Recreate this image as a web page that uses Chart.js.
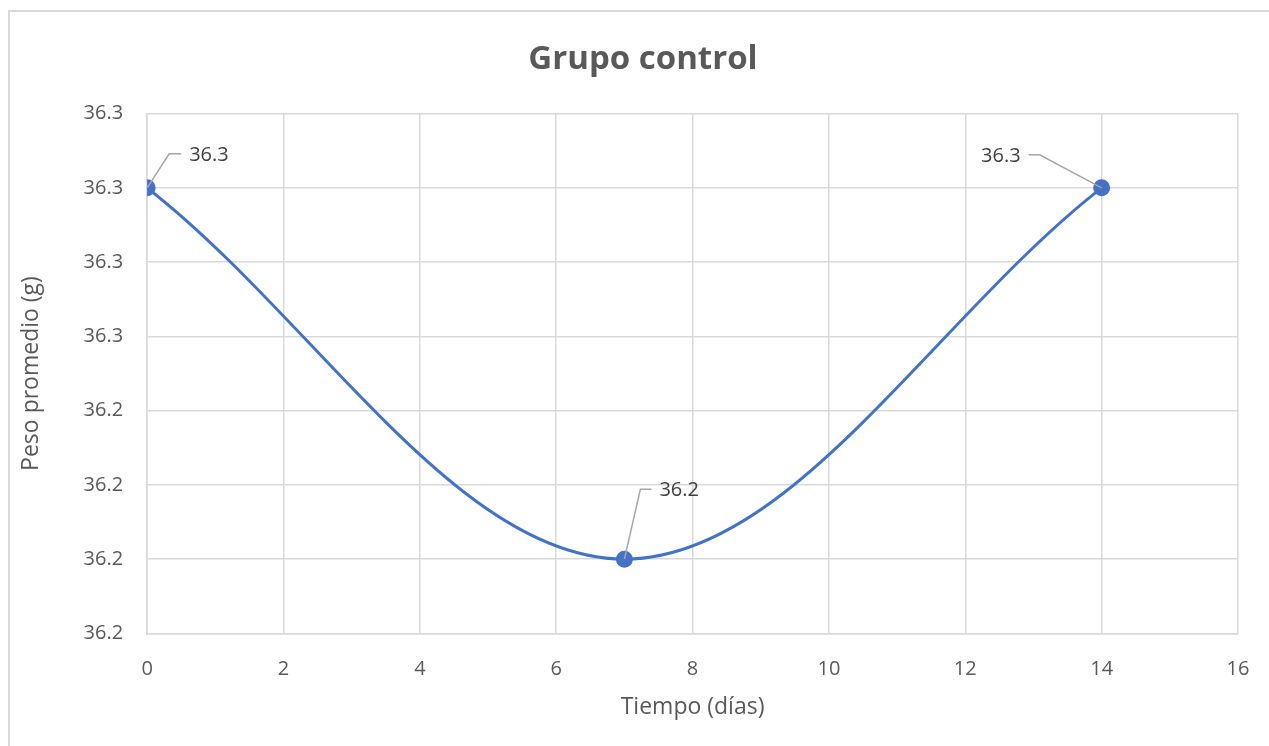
<!DOCTYPE html>
<html lang="es">
<head>
    <meta charset="UTF-8">
    <title>Grupo control</title>
    <script src="https://cdn.jsdelivr.net/npm/chart.js"></script>
    <style>
        html, body { margin: 0; background: #fff; overflow: hidden; }
        #box { position: absolute; left: 8px; top: 10px; width: 1261px; height: 736px; border: 2px solid #d9d9d9; border-right: none; border-bottom: none; box-sizing: border-box; }
        #wrap { position: absolute; left: 0; top: 0; width: 1269px; height: 746px; }
    </style>
</head>
<body>
    <div id="box"></div>
    <div id="wrap"><canvas id="myChart"></canvas></div>

    <script>
        // datos
        const dias = [0, 7, 14];
        const peso = [36.27, 36.22, 36.27];
        const etiquetas = ['36.3', '36.2', '36.3'];
        const yTicks = [36.21, 36.22, 36.23, 36.24, 36.25, 36.26, 36.27, 36.28];
        const yTickLabels = ['36.2', '36.2', '36.2', '36.2', '36.3', '36.3', '36.3', '36.3'];
        const titulo = 'Grupo control';

        // posicion de las etiquetas (linea guia)
        const guias = [
            { dx: 22, dy: -34, hx: 34, align: 'left' },
            { dx: 16, dy: -70, hx: 27, align: 'left' },
            { dx: -62, dy: -33, hx: -73, align: 'right' }
        ];

        const fuente = '"Open Sans", sans-serif';

        const labelPlugin = {
            id: 'labelPlugin',
            afterDatasetsDraw(chart) {
                const ctx = chart.ctx;
                const meta = chart.getDatasetMeta(0);
                ctx.save();
                meta.data.forEach((pt, i) => {
                    const g = guias[i];
                    ctx.strokeStyle = '#a6a6a6';
                    ctx.lineWidth = 1.5;
                    ctx.beginPath();
                    ctx.moveTo(pt.x, pt.y);
                    ctx.lineTo(pt.x + g.dx, pt.y + g.dy);
                    ctx.lineTo(pt.x + g.hx, pt.y + g.dy);
                    ctx.stroke();
                    ctx.fillStyle = '#404040';
                    ctx.font = '20px ' + fuente;
                    ctx.textBaseline = 'middle';
                    ctx.textAlign = g.align;
                    const tx = g.align === 'left' ? pt.x + g.hx + 8 : pt.x + g.hx - 8;
                    ctx.fillText(etiquetas[i], tx, pt.y + g.dy + 1);
                });
                // titulo centrado en el recuadro del grafico
                const t = chart.titleBlock;
                ctx.fillStyle = '#595959';
                ctx.font = 'bold 33px ' + fuente;
                ctx.textAlign = 'center';
                ctx.textBaseline = 'middle';
                ctx.fillText(titulo, (chart.width + 17) / 2, t.top + t.height / 2 - 12);
                ctx.restore();
            }
        };

        const ctx = document.getElementById('myChart').getContext('2d');
        const myChart = new Chart(ctx, {
            type: 'line',
            data: {
                datasets: [{
                    data: dias.map((d, i) => ({ x: d, y: peso[i] })),
                    borderColor: '#4472C4',
                    backgroundColor: '#4472C4',
                    borderWidth: 3,
                    pointRadius: 7,
                    pointHoverRadius: 7,
                    tension: 0.35,
                    fill: false
                }]
            },
            options: {
                responsive: true,
                maintainAspectRatio: false,
                animation: false,
                layout: { padding: { left: 14, right: 31, top: 30, bottom: 21 } },
                plugins: {
                    legend: { display: false },
                    tooltip: { enabled: false },
                    title: {
                        display: true,
                        text: titulo,
                        color: 'rgba(0,0,0,0)',
                        font: { family: fuente, size: 33, weight: 'bold' },
                        padding: { top: 10, bottom: 34 }
                    }
                },
                scales: {
                    x: {
                        type: 'linear',
                        min: 0,
                        max: 16,
                        ticks: { stepSize: 2, color: '#595959', font: { family: fuente, size: 20 }, padding: 0 },
                        grid: { color: '#d9d9d9', lineWidth: 1.5, tickLength: 24, tickColor: 'rgba(0,0,0,0)' },
                        border: { color: '#d9d9d9', width: 1.5 },
                        title: { display: true, text: 'Tiempo (días)', color: '#595959', font: { family: fuente, size: 23 }, padding: { top: 12 } }
                    },
                    y: {
                        min: 36.21,
                        max: 36.28,
                        afterBuildTicks: (axis) => { axis.ticks = yTicks.map(v => ({ value: v })); },
                        ticks: {
                            color: '#595959',
                            font: { family: fuente, size: 20 },
                            padding: 24,
                            callback: (v, i) => yTickLabels[i]
                        },
                        grid: { color: '#d9d9d9', lineWidth: 1.5, tickLength: 0 },
                        border: { color: '#d9d9d9', width: 1.5 },
                        title: { display: true, text: 'Peso promedio (g)', color: '#595959', font: { family: fuente, size: 23 }, padding: { bottom: 14 } }
                    }
                }
            },
            plugins: [labelPlugin]
        });
    </script>
</body>
</html>
